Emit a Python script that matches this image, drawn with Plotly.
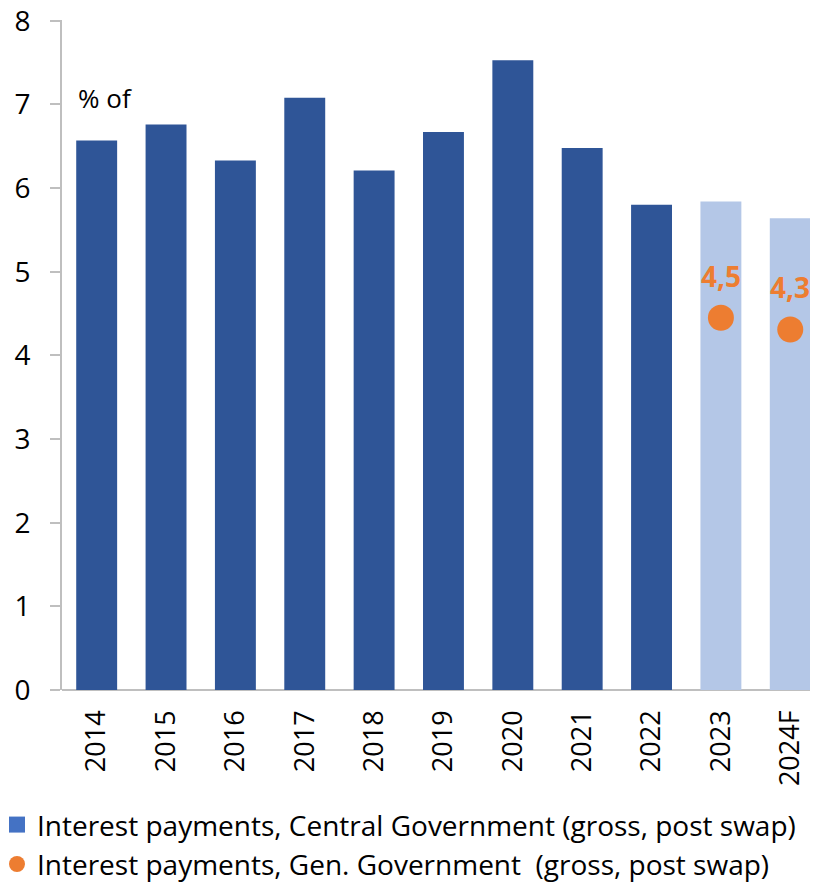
import plotly.graph_objects as go

# Data
years = ["2014", "2015", "2016", "2017", "2018", "2019", "2020", "2021", "2022", "2023", "2024F"]
central_gov = [6.57, 6.76, 6.33, 7.08, 6.21, 6.67, 7.53, 6.48, 5.80, 5.84, 5.64]
gen_gov_years = ["2023", "2024F"]
gen_gov = [4.45, 4.31]
gen_gov_labels = ["4,5", "4,3"]

DARK_BLUE = "#2F5597"
LIGHT_BLUE = "#B4C7E7"
ORANGE = "#ED7D31"
AXIS_GRAY = "#BFBFBF"
FONT = "Open Sans"

bar_colors = [LIGHT_BLUE if y in gen_gov_years else DARK_BLUE for y in years]

fig = go.Figure()

# Bars (legend handled by dummy trace below)
fig.add_trace(go.Bar(
    x=years, y=central_gov, marker=dict(color=bar_colors, line=dict(width=0)),
    width=0.59, showlegend=False,
))

# Orange dots
fig.add_trace(go.Scatter(
    x=gen_gov_years, y=gen_gov, mode="markers",
    marker=dict(color=ORANGE, size=26),
    showlegend=False, cliponaxis=False,
))

# Dot labels (category index so "2023" isn't read as a number)
for yr, val, lbl in zip(gen_gov_years, gen_gov, gen_gov_labels):
    fig.add_annotation(
        x=years.index(yr), y=val, text=lbl, showarrow=False,
        yanchor="bottom", yshift=21,
        font=dict(color=ORANGE, size=28, family=FONT, weight="bold"),
    )

# Legend entries
fig.add_trace(go.Scatter(
    x=[None], y=[None], mode="markers",
    marker=dict(color="#4472C4", size=17, symbol="square"),
    name="Interest payments, Central Government (gross, post swap)",
    legendgroup="a",
))
fig.add_trace(go.Scatter(
    x=[None], y=[None], mode="markers",
    marker=dict(color=ORANGE, size=18, symbol="circle"),
    name="Interest payments, Gen. Government  (gross, post swap)",
    legendgroup="b",
))

fig.add_annotation(
    text="% of", xref="x", yref="y", x=-0.3, y=7.08,
    xanchor="left", yanchor="middle", showarrow=False,
    font=dict(size=26, family=FONT, color="black"),
)

fig.update_layout(
    width=810, height=874,
    margin=dict(l=54, r=0, t=12, b=192, autoexpand=False),
    plot_bgcolor="white", paper_bgcolor="white",
    font=dict(family=FONT, color="black"),
    bargap=0.41,
    legend=dict(
        x=-0.086, y=-0.164, xanchor="left", yanchor="top",
        orientation="v", font=dict(size=28, family=FONT, color="black"),
        tracegroupgap=0, itemsizing="trace", itemwidth=30,
        bgcolor="rgba(0,0,0,0)",
    ),
    xaxis=dict(
        range=[-0.5, 10.4], tickangle=-90, showgrid=False, automargin=False,
        tickfont=dict(size=27, family=FONT, color="black"),
        showline=False, ticks="", ticklabelstandoff=14,
    ),
    yaxis=dict(
        range=[0, 8.01], tickvals=[0, 1, 2, 3, 4, 5, 6, 7, 8],
        showgrid=False, zeroline=True, automargin=False,
        zerolinecolor=AXIS_GRAY, zerolinewidth=2,
        showline=True, linecolor=AXIS_GRAY, linewidth=2,
        ticks="outside", ticklen=10, tickcolor=AXIS_GRAY, tickwidth=2,
        ticklabelstandoff=14, ticklabeloverflow="allow",
        tickfont=dict(size=28, family=FONT, color="black"),
    ),
)

fig.write_html("out.html")
